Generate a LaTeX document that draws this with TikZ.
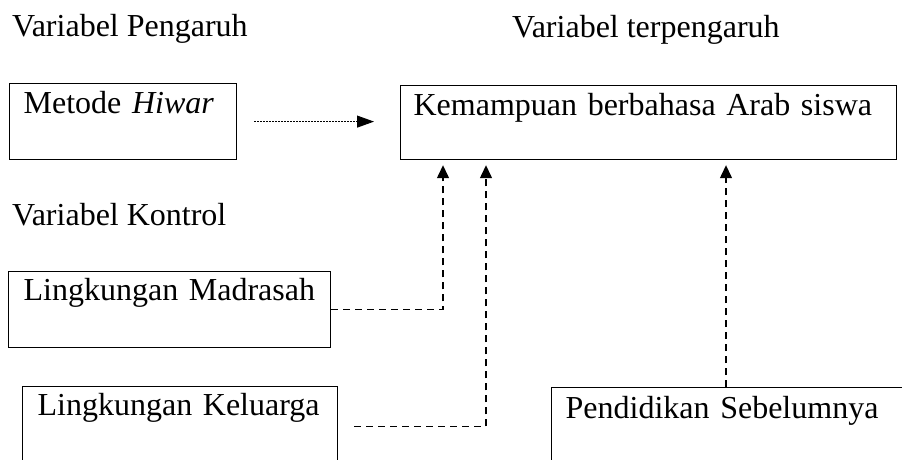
\documentclass[tikz,border=0pt]{standalone}
\usepackage{fontspec}
\setmainfont{Liberation Serif}
\usetikzlibrary{arrows.meta}
\begin{document}
\begin{tikzpicture}[x=1pt,y=-1pt,
  box/.style={draw, line width=1.2pt, anchor=north west, inner ysep=0pt, align=left, font=\fontsize{32}{38}\selectfont},
  lbl/.style={anchor=base west, inner sep=0pt, font=\fontsize{32}{38}\selectfont},
  dep/.style={line width=1.3pt, dash pattern=on 7pt off 5pt, -{Triangle[length=13pt,width=12pt]}, shorten >=5pt},
  inf/.style={line width=0.9pt, dash pattern=on 2pt off 1pt, -{Triangle[length=17pt,width=12pt]}}]
\useasboundingbox (0,0) rectangle (902,460);
\node[lbl] (vp) at (12,37) {Variabel Pengaruh};
\node[lbl] (vt) at (512,38) {Variabel terpengaruh};
\node[lbl] (vk) at (12,225) {Variabel Kontrol};
\node[box, inner xsep=14pt, text width=199pt, text height=30pt, text depth=46pt] (hiwar) at (9,83) {Metode \textit{Hiwar}};
\node[box, inner xsep=13pt, text width=470pt, text height=30pt, text depth=44pt] (kem) at (400,85) {Kemampuan berbahasa Arab siswa};
\node[box, inner xsep=15pt, text width=292pt, text height=29pt, text depth=47pt] (mad) at (8,271) {Lingkungan Madrasah};
\node[box, inner xsep=15pt, text width=285pt, text height=29pt, text depth=51pt] (kel) at (22,386) {Lingkungan Keluarga};
\node[box, inner xsep=14pt, text width=340pt, text height=31pt, text depth=50pt] (pend) at (551,387) {Pendidikan Sebelumnya};
\coordinate (k1) at ([xshift=43pt]kem.south west);
\coordinate (k2) at ([xshift=86pt]kem.south west);
\coordinate (k3) at ([xshift=326pt]kem.south west);
\draw[inf, shorten <=17pt, shorten >=26pt] (hiwar.east) -- (hiwar.east -| kem.west);
\draw[dep] (mad.east) -| (k1);
\draw[dep, shorten <=16pt] (kel.east) -| (k2);
\draw[dep] (k3 |- pend.north) -- (k3);
\end{tikzpicture}
\end{document}
